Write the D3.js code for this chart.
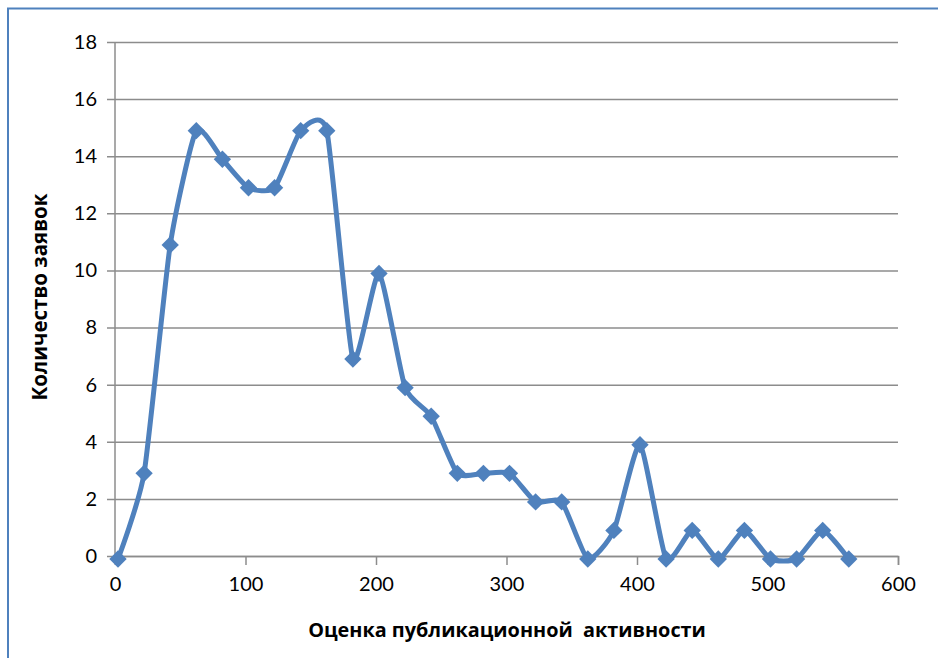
<!DOCTYPE html>
<html>
<head>
<meta charset="utf-8">
<script src="https://cdn.jsdelivr.net/npm/d3@7"></script>
<style>
  body { margin: 0; background: #fff; }
</style>
</head>
<body>
<script>
// data
const scores = [0, 20, 40, 60, 80, 100, 120, 140, 160, 180, 200, 220, 240, 260, 280,
                300, 320, 340, 360, 380, 400, 420, 440, 460, 480, 500, 520, 540, 560];
const counts = [0, 3, 11, 15, 14, 13, 13, 15, 15, 7, 10, 6, 5, 3, 3,
                3, 2, 2, 0, 1, 4, 0, 1, 0, 1, 0, 0, 1, 0];
const xTicks = [0, 100, 200, 300, 400, 500, 600];
const yTicks = [0, 2, 4, 6, 8, 10, 12, 14, 16, 18];
const xTitle = "Оценка публикационной  активности";
const yTitle = "Количество заявок";

const svgSize = {width: 938, height: 658};
const margin = {top: 42, right: 40, bottom: 102, left: 115};
const width = 898 - margin.left, height = 556 - margin.top;
const blue = "#4f81bd", grey = "#8c8c8c";

let svg = d3.select("body").append("svg")
    .attr("width", svgSize.width)
    .attr("height", svgSize.height);

// outer chart frame (only top and left visible)
svg.append("path")
    .attr("d", "M8,658 L8,8.5 L938,8.5")
    .attr("fill", "none")
    .attr("stroke", blue)
    .attr("stroke-width", 2);

let g = svg.append("g").attr("transform", `translate(${margin.left},${margin.top})`);

let x = d3.scaleLinear().domain([0, 600]).range([0, width]);
let y = d3.scaleLinear().domain([0, 18]).range([height, 0]);

// gridlines + y axis
let yAxis = g.append("g")
    .call(d3.axisLeft(y).tickValues(yTicks).tickSize(-width).tickPadding(18));
yAxis.select(".domain").remove();
yAxis.selectAll(".tick line")
    .attr("x1", -8)
    .attr("stroke", grey).attr("stroke-width", 1.5);
yAxis.selectAll(".tick text")
    .attr("font-family", "Lato, 'Open Sans', sans-serif")
    .attr("font-size", 20).attr("fill", "#000");
g.append("line")
    .attr("x1", 0).attr("x2", 0).attr("y1", 0).attr("y2", height)
    .attr("stroke", grey).attr("stroke-width", 1.5);

// x axis
let xAxis = g.append("g")
    .attr("transform", `translate(0,${height})`)
    .call(d3.axisBottom(x).tickValues(xTicks).tickSize(9).tickPadding(12));
xAxis.select(".domain").attr("stroke", grey).attr("stroke-width", 1.5);
xAxis.selectAll(".tick line").attr("stroke", grey).attr("stroke-width", 1.5);
xAxis.selectAll(".tick text")
    .attr("font-family", "Lato, 'Open Sans', sans-serif")
    .attr("font-size", 20).attr("fill", "#000");

// series (Excel draws it a few px off the grid)
let series = g.append("g").attr("transform", "translate(3,3)");
let pts = scores.map((s, i) => [s, counts[i]]);
let line = d3.line()
    .curve(d3.curveCardinal.tension(0.45))
    .x(d => x(d[0]))
    .y(d => y(d[1]));
series.append("path")
    .attr("d", line(pts))
    .attr("fill", "none")
    .attr("stroke", blue)
    .attr("stroke-width", 5)
    .attr("stroke-linejoin", "round");
series.selectAll(".marker")
    .data(pts)
    .enter().append("path")
    .attr("class", "marker")
    .attr("d", d3.symbol(d3.symbolSquare, 150))
    .attr("transform", d => `translate(${x(d[0])},${y(d[1])}) rotate(45)`)
    .attr("fill", blue);

// axis titles, sized to the widths seen in the picture
function fit(t, target) {
    let size = 20;
    t.attr("font-size", size);
    let w = t.node().getComputedTextLength();
    t.attr("font-size", size * target / w);
}
let xt = svg.append("text")
    .attr("x", 507).attr("y", 637)
    .attr("text-anchor", "middle")
    .attr("font-family", "'Open Sans', 'Noto Sans', sans-serif")
    .attr("font-weight", "bold")
    .attr("xml:space", "preserve")
    .style("white-space", "pre")
    .text(xTitle);
fit(xt, 398);
let yt = svg.append("text")
    .attr("transform", "translate(47,297) rotate(-90)")
    .attr("text-anchor", "middle")
    .attr("font-family", "'Open Sans', 'Noto Sans', sans-serif")
    .attr("font-weight", "bold")
    .text(yTitle);
fit(yt, 207);
</script>
</body>
</html>
